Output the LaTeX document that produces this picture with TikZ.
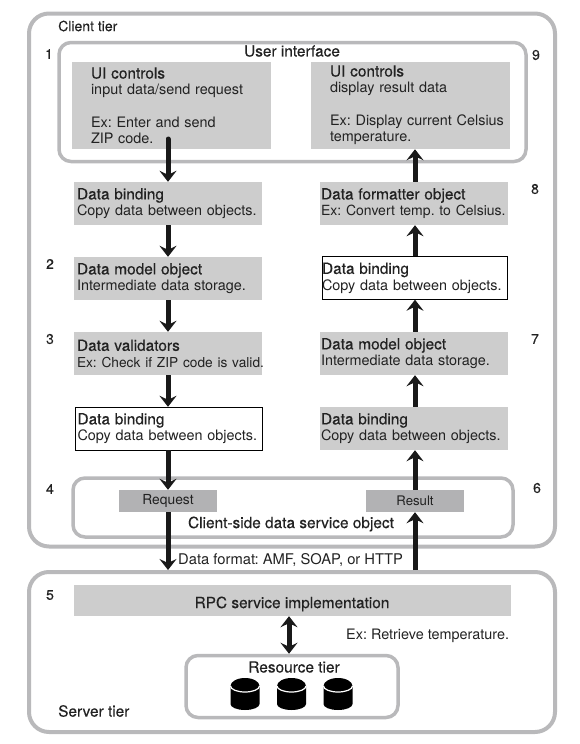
\documentclass[tikz,border=0pt]{standalone}
\usepackage{fontspec}
\setmainfont{TeX Gyre Heros}
\newfontfamily\medfont[FakeBold=0.35]{TeX Gyre Heros}
\newcommand{\titlefont}{\fontsize{15.4}{16.3}\selectfont\medfont}
\newcommand{\tightfont}[1]{\fontsize{#1}{16.3}\selectfont}
\usetikzlibrary{arrows.meta,positioning}
\definecolor{tierline}{HTML}{B9B9BB}
\definecolor{boxgray}{HTML}{CDCDCD}
\definecolor{darkgray}{HTML}{B2B2B4}
\definecolor{inktext}{HTML}{222222}

\begin{document}
\frenchspacing
\begin{tikzpicture}[
  x=1pt,y=-1pt,
  every node/.style={text=inktext,font=\fontsize{14.4}{16.3}\selectfont},
  tier/.style={draw=tierline,line width=4pt,rounded corners=20pt,inner sep=0pt},
  group/.style={draw=tierline,line width=3.5pt,rounded corners=12pt,inner sep=0pt},
  uibox/.style={fill=boxgray,minimum width=199pt,minimum height=87pt,inner xsep=0pt,text width=161pt,align=left},
  grayflow/.style={fill=boxgray,minimum width=188pt,minimum height=43pt,inner xsep=0pt,text width=182pt,align=left},
  whiteflow/.style={draw=black,fill=white,minimum width=187pt,minimum height=43pt,inner xsep=0pt,text width=182pt,align=left},
  msgbox/.style={fill=darkgray,minimum width=98pt,minimum height=22pt,inner sep=0pt},
  flow/.style={draw=black!90,line width=5pt,-{Stealth[length=11pt,width=17pt,inset=4pt]}},
  title/.style={font=\titlefont},
  num/.style={font=\fontsize{14}{16}\selectfont\medfont}
]
  \useasboundingbox (0,0) rectangle (579,744);

  % Tiers and groups
  \node[tier,minimum width=526pt,minimum height=533pt] (client) at (292,280) {};
  \node[tier,minimum width=526pt,minimum height=160pt] (server) at (292,652) {};
  \node[group,minimum width=467pt,minimum height=119pt] (uiface) at (292.5,102) {};
  \node[group,minimum width=440pt,minimum height=59pt] (dataservice) at (293,507.5) {};
  \node[group,minimum width=212pt,minimum height=62pt] (resource) at (292,686.5) {};

  % Left column, request
  \node[uibox] (uiin) at (171.5,105.5) {{\titlefont UI controls}\\input data/send request\\[16pt]Ex: Enter and send\\ZIP code.};
  \node[grayflow] (bindA) at (168,203.5) {{\titlefont Data binding}\\Copy data between objects.};
  \node[grayflow] (modelA) at (168,278.5) {{\titlefont Data model object}\\Intermediate data storage.};
  \node[grayflow] (validate) at (168,353.5) {{\titlefont Data validators}\\\leavevmode\rlap{\tightfont{13.7}Ex: Check if ZIP code is valid.}};
  \node[whiteflow] (bindB) at (168.5,428.5) {{\titlefont Data binding}\\Copy data between objects.};
  \node[msgbox] (request) at (168,501) {\tightfont{13.8}Request};

  % Right column, result
  \node[uibox] (uiout) at (410.5,105.5) {{\titlefont UI controls}\\display result data\\[16pt]\leavevmode\rlap{Ex: Display current Celsius}\\temperature.\\[-12pt]\leavevmode};
  \node[grayflow,text width=186pt] (format) at (414,203.5) {{\titlefont Data formatter object}\\\tightfont{14}Ex: Convert temp. to Celsius.};
  \node[whiteflow,minimum width=185pt,text width=185pt] (bindC) at (414.5,278) {{\titlefont Data binding}\\Copy data between objects.};
  \node[grayflow,text width=186pt] (modelB) at (414,353.5) {{\titlefont Data model object}\\Intermediate data storage.};
  \node[grayflow,text width=186pt] (bindD) at (414,428.5) {{\titlefont Data binding}\\Copy data between objects.};
  \node[msgbox] (result) at (415,501) {\tightfont{13.2}Result};

  % Server side
  \node[fill=boxgray,minimum width=437pt,minimum height=31pt,inner sep=0pt] (rpc) at (292.5,600.5) {};
  \node[title] (rpctext) at (292,604) {RPC service implementation};
  \node[title] (restext) at (294,667) {Resource tier};

  % Labels
  \node[anchor=west,inner sep=0pt,font=\fontsize{14}{16}\selectfont\medfont] (clientlabel) at (58,26) {Client tier};
  \node[title,anchor=west,inner sep=0pt] (serverlabel) at (58,711) {Server tier};
  \node[title] (uilabel) at (292,51) {User interface};
  \node[title] (dslabel) at (291,524) {Client-side data service object};
  \node[anchor=west,inner sep=0pt,font=\tightfont{14.75}] (formatlabel) at (178,560) {Data format: AMF, SOAP, or HTTP};
  \node[anchor=west,inner sep=0pt] (retrieve) at (346,636) {Ex: Retrieve temperature.};

  % Step numbers
  \node[num] (n1) at (49,54) {1};
  \node[num] (n2) at (50,264) {2};
  \node[num] (n3) at (50,339) {3};
  \node[num] (n4) at (50,489) {4};
  \node[num] (n5) at (50,595) {5};
  \node[num] (n6) at (537,488) {6};
  \node[num] (n7) at (535,339) {7};
  \node[num] (n8) at (535,189) {8};
  \node[num] (n9) at (536,55) {9};

  % Databases
  \foreach \dbx/\dbname in {245/dbA,291.5/dbB,338/dbC} {
    \fill[black] (\dbx-14.5,686) -- (\dbx-14.5,704) arc[start angle=180,end angle=360,x radius=14.5,y radius=-6]
      -- (\dbx+14.5,686) arc[start angle=0,end angle=180,x radius=14.5,y radius=-8] -- cycle;
    \draw[white,line width=1.2pt] (\dbx-14.5,686) arc[start angle=180,end angle=360,x radius=14.5,y radius=-6];
    \coordinate (\dbname) at (\dbx,694);
  }

  % Arrows
  \coordinate (leftx) at (168,0);
  \coordinate (rightx) at (415,0);
  \coordinate (midx) at (289,0);
  \coordinate (uistart) at (168,139);
  \draw[flow,line cap=round] (uistart) -- (bindA.north -| leftx);
  \draw[flow] (bindA.south -| leftx) -- (modelA.north -| leftx);
  \draw[flow] (modelA.south -| leftx) -- (validate.north -| leftx);
  \draw[flow] (validate.south -| leftx) -- (bindB.north -| leftx);
  \draw[flow] (bindB.south -| leftx) -- (request.north);
  \draw[flow] (request.south) -- (server.north -| leftx);
  \draw[flow] (server.north -| rightx) -- (result.south);
  \draw[flow] (result.north) -- (bindD.south -| rightx);
  \draw[flow] (bindD.north -| rightx) -- (modelB.south -| rightx);
  \draw[flow] (modelB.north -| rightx) -- (bindC.south -| rightx);
  \draw[flow] (bindC.north -| rightx) -- (format.south -| rightx);
  \draw[flow] (format.north -| rightx) -- (uiout.south -| rightx);
  \draw[flow,{Stealth[length=11pt,width=17pt,inset=4pt]}-{Stealth[length=11pt,width=17pt,inset=4pt]}] (rpc.south -| midx) -- (resource.north -| midx);
\end{tikzpicture}
\end{document}
